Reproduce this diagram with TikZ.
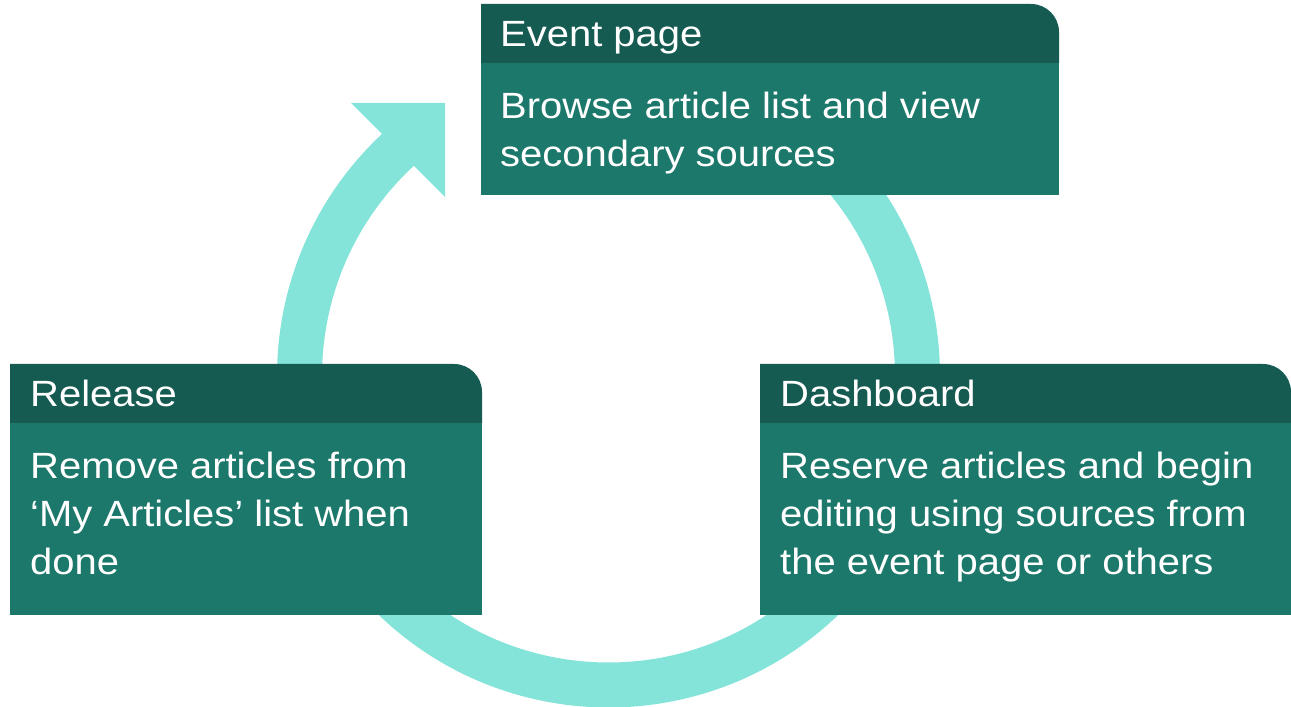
\documentclass[tikz,border=0pt]{standalone}
\usepackage{fontspec}
\setmainfont[FakeStretch=1.095]{Liberation Sans}
\definecolor{headc}{HTML}{165B52}
\definecolor{bodyc}{HTML}{1D786C}
\definecolor{ringc}{HTML}{84E4D9}
\begin{document}
\begin{tikzpicture}[x=1pt,y=1pt,
  ring/.style={draw=ringc,line width=45pt},
  head/.style={fill=headc},
  body/.style={fill=bodyc},
  txt/.style={anchor=base west,inner sep=0pt,text=white,font=\fontsize{36.5}{48}\selectfont}]
\useasboundingbox (0,0) rectangle (1291,707);
\coordinate (c) at (608.5,331);
% ring with arrow head
\draw[ring] (c) ++(132.5:309pt) arc[start angle=132.5,end angle=450,radius=309pt];
\coordinate (t1) at (351,604);
\coordinate (t2) at (445,604);
\coordinate (t3) at (445,510);
\fill[ringc] (t1) -- (t2) -- (t3) -- cycle;
% Event page box
\fill[body] (481,512) rectangle (1059,644);
\fill[head] (481,644) -- (481,703) [rounded corners=28pt] -- (1059,703) [sharp corners] -- (1059,644) -- cycle;
\node[txt] (evh) at (500,660) {Event page};
\node[txt] (ev1) at (500,588) {Browse article list and view};
\node[txt] (ev2) at (500,540) {secondary sources};
% Release box
\fill[body] (10,92) rectangle (482,284);
\fill[head] (10,284) -- (10,343) [rounded corners=28pt] -- (482,343) [sharp corners] -- (482,284) -- cycle;
\node[txt] (rlh) at (30,300) {Release};
\node[txt] (rl1) at (30,228) {Remove articles from};
\node[txt] (rl2) at (30,180) {‘My Articles’ list when};
\node[txt] (rl3) at (30,132) {done};
% Dashboard box
\fill[body] (760,92) rectangle (1291,284);
\fill[head] (760,284) -- (760,343) [rounded corners=28pt] -- (1291,343) [sharp corners] -- (1291,284) -- cycle;
\node[txt] (dbh) at (780,300) {Dashboard};
\node[txt] (db1) at (780,228) {Reserve articles and begin};
\node[txt] (db2) at (780,180) {editing using sources from};
\node[txt] (db3) at (780,132) {the event page or others};
\end{tikzpicture}
\end{document}
